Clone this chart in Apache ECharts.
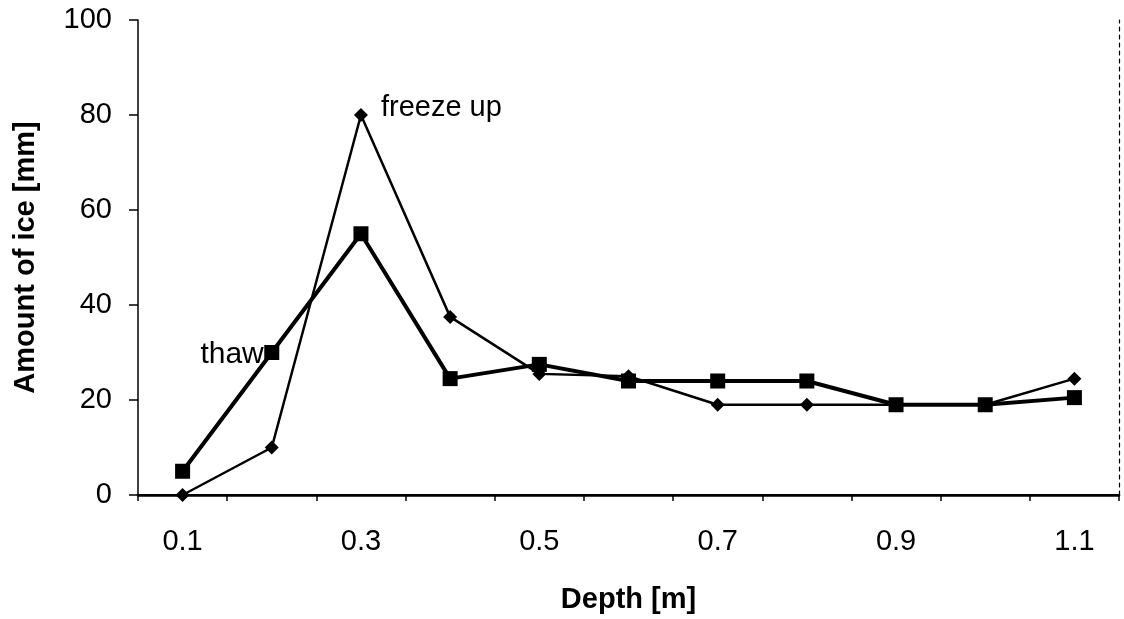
<!DOCTYPE html>
<html><head><meta charset="utf-8">
<script src="https://cdn.jsdelivr.net/npm/echarts@6/dist/echarts.min.js"></script>
<style>html,body{margin:0;padding:0;background:#fff}#c{width:1124px;height:619px}</style>
</head><body><div id="c"></div>
<script>
const depths = ['0.1','0.2','0.3','0.4','0.5','0.6','0.7','0.8','0.9','1.0','1.1'];
const freezeUp = [0, 10, 80, 37.5, 25.5, 25, 19, 19, 19, 19, 24.5];
const thaw = [5, 30, 55, 24.5, 27.5, 24, 24, 24, 19, 19, 20.5];
const yTicks = [0, 20, 40, 60, 80, 100];

const chart = echarts.init(document.getElementById('c'));
const font = 'Liberation Sans, Arial, sans-serif';
chart.setOption({
  animation: false,
  backgroundColor: '#fff',
  grid: {left: 138, right: 5, top: 20, bottom: 124, containLabel: false, outerBoundsMode: 'none'},
  xAxis: [{
    type: 'category', data: depths, boundaryGap: true,
    name: 'Depth [m]', nameLocation: 'middle', nameGap: 90,
    nameTextStyle: {fontFamily: font, fontSize: 29, fontWeight: 'bold', color: '#000'},
    axisLine: {lineStyle: {color: '#000', width: 2.5}},
    axisTick: {show: true, inside: false, length: 6, interval: 0, lineStyle: {color: '#000', width: 1.5}},
    axisLabel: {interval: 1, margin: 32, fontFamily: font, fontSize: 29, color: '#000',
      formatter: v => v},
    splitLine: {show: false}
  }, {
    type: 'category', data: depths, position: 'top',
    axisLine: {show: true, lineStyle: {color: '#000', width: 2}},
    axisTick: {show: false}, axisLabel: {show: false}
  }],
  yAxis: [{
    type: 'value', min: 0, max: 100, interval: 20,
    name: 'Amount of ice [mm]', nameLocation: 'middle', nameGap: 98, nameRotate: 90,
    nameTextStyle: {fontFamily: font, fontSize: 29, fontWeight: 'bold', color: '#000'},
    axisLine: {show: true, lineStyle: {color: '#000', width: 1.5}},
    axisTick: {show: true, inside: false, length: 9, lineStyle: {color: '#000', width: 1.5}},
    axisLabel: {margin: 26, fontFamily: font, fontSize: 29, color: '#000',
      formatter: v => yTicks.includes(v) ? String(v) : ''},
    splitLine: {show: false}
  }, {
    type: 'value', min: 0, max: 100, interval: 20, position: 'right',
    axisLine: {show: true, lineStyle: {color: '#000', width: 1.2, type: [4, 4]}},
    axisTick: {show: false}, axisLabel: {show: false}, splitLine: {show: false}
  }],
  series: [{
    name: 'freeze up', type: 'line', data: freezeUp,
    symbol: 'diamond', symbolSize: 14,
    lineStyle: {color: '#000', width: 2.5}, itemStyle: {color: '#000'},
    markPoint: {
      symbol: 'circle', symbolSize: 0,
      data: [{coord: ['0.3', freezeUp[2]], value: 'freeze up'}],
      label: {show: true, position: 'right', distance: 20, offset: [0, -7], formatter: 'freeze up',
        fontFamily: font, fontSize: 29, color: '#000'}
    }
  }, {
    name: 'thaw', type: 'line', data: thaw,
    symbol: 'rect', symbolSize: 15,
    lineStyle: {color: '#000', width: 4}, itemStyle: {color: '#000'},
    markPoint: {
      symbol: 'circle', symbolSize: 0,
      data: [{coord: ['0.2', thaw[1]], value: 'thaw'}],
      label: {show: true, position: 'left', distance: 8, offset: [0, 2], formatter: 'thaw',
        fontFamily: font, fontSize: 30, color: '#000'}
    }
  }]
});
</script></body></html>
